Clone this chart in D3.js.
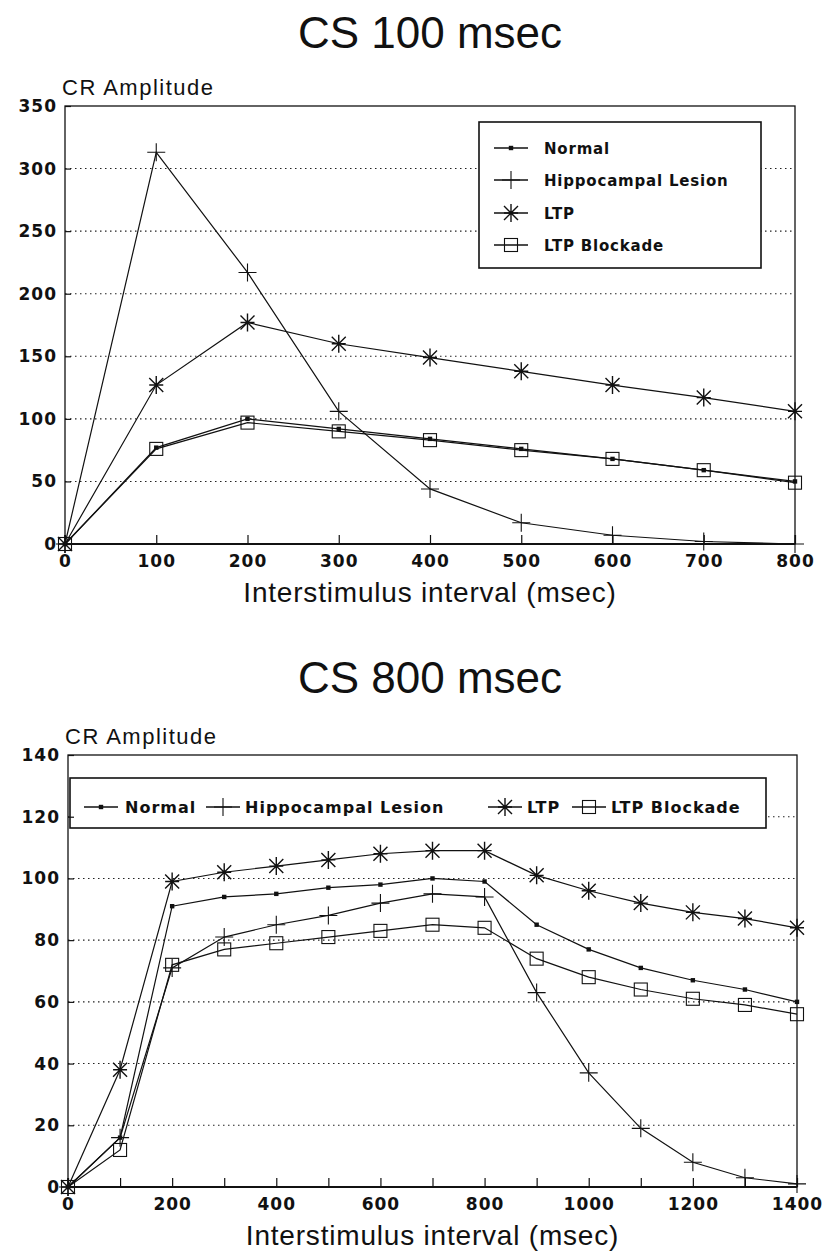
<!DOCTYPE html>
<html>
  <head>
    <meta charset="utf-8">
    <title>CR Amplitude by interstimulus interval</title>
    <script src="https://d3js.org/d3.v7.min.js"></script>
    <style>
      body { margin: 0; background: #fff; }
      svg { display: block; }
      .title { font-family: "Liberation Sans", Arial, sans-serif; font-size: 44px; fill: #111; }
      .ylabel { font-family: "Liberation Sans", Arial, sans-serif; font-size: 22px; letter-spacing: 1.5px; fill: #111; }
      .xlabel { font-family: "Liberation Sans", Arial, sans-serif; font-size: 28px; letter-spacing: 0.8px; fill: #111; }
      .axis text { font-family: "DejaVu Sans", sans-serif; font-weight: bold; font-size: 17px; letter-spacing: 1px; fill: #111; }
      .axis path { display: none; }
      .axis line { stroke: #111; stroke-width: 1.2; }
      .grid { stroke: #222; stroke-width: 1.1; stroke-dasharray: 1.5 3.5; }
      .frame { fill: none; stroke: #111; stroke-width: 1.3; }
      .series { fill: none; stroke: #111; stroke-width: 1.2; }
      .mark { stroke: #111; stroke-width: 1.1; fill: none; }
      .legendBox { fill: #fff; stroke: #111; stroke-width: 1.6; }
      .legend text { font-family: "DejaVu Sans", sans-serif; font-weight: bold; fill: #111; }
    </style>
  </head>
  <body>
    <svg id="chart" width="822" height="1259"></svg>
    <script>
      // series names and marker types
      var seriesNames = ["Normal", "Hippocampal Lesion", "LTP", "LTP Blockade"];
      var seriesMarks = ["dot", "plus", "star", "square"];

      // CS 100 msec panel
      var cs100Isi = [0, 100, 200, 300, 400, 500, 600, 700, 800];
      var cs100Normal = [0, 77, 100, 92, 84, 76, 68, 59, 50];
      var cs100Hippo = [0, 313, 217, 106, 44, 17, 7, 2, 0];
      var cs100Ltp = [0, 127, 177, 160, 149, 138, 127, 117, 106];
      var cs100Block = [0, 76, 97, 90, 83, 75, 68, 59, 49];
      var cs100YTicks = [0, 50, 100, 150, 200, 250, 300, 350];
      var cs100XTicks = [0, 100, 200, 300, 400, 500, 600, 700, 800];
      var cs100XLabels = [0, 100, 200, 300, 400, 500, 600, 700, 800];

      // CS 800 msec panel
      var cs800Isi = [0, 100, 200, 300, 400, 500, 600, 700, 800, 900, 1000, 1100, 1200, 1300, 1400];
      var cs800Normal = [0, 16, 91, 94, 95, 97, 98, 100, 99, 85, 77, 71, 67, 64, 60];
      var cs800Hippo = [0, 16, 71, 81, 85, 88, 92, 95, 94, 63, 37, 19, 8, 3, 1];
      var cs800Ltp = [0, 38, 99, 102, 104, 106, 108, 109, 109, 101, 96, 92, 89, 87, 84];
      var cs800Block = [0, 12, 72, 77, 79, 81, 83, 85, 84, 74, 68, 64, 61, 59, 56];
      var cs800YTicks = [0, 20, 40, 60, 80, 100, 120, 140];
      var cs800XTicks = [0, 100, 200, 300, 400, 500, 600, 700, 800, 900, 1000, 1100, 1200, 1300, 1400];
      var cs800XLabels = [0, 200, 400, 600, 800, 1000, 1200, 1400];

      var svg = d3.select("#chart");

      function drawMark(g, type, cx, cy) {
        if (type === "dot") {
          g.append("rect").attr("x", cx - 2.2).attr("y", cy - 2.2)
            .attr("width", 4.4).attr("height", 4.4).style("fill", "#111");
        } else if (type === "plus") {
          g.append("path").attr("class", "mark")
            .attr("d", "M" + (cx - 9) + "," + cy + "H" + (cx + 9) + "M" + cx + "," + (cy - 9) + "V" + (cy + 9));
        } else if (type === "star") {
          g.append("path").attr("class", "mark").style("stroke-width", 1.4)
            .attr("d", "M" + cx + "," + (cy - 9) + "V" + (cy + 9)
              + "M" + (cx - 7) + "," + (cy - 7) + "L" + (cx + 7) + "," + (cy + 7)
              + "M" + (cx - 7) + "," + (cy + 7) + "L" + (cx + 7) + "," + (cy - 7)
              + "M" + (cx - 7) + "," + cy + "H" + (cx + 7));
        } else {
          g.append("rect").attr("class", "mark")
            .attr("x", cx - 6.5).attr("y", cy - 6.5).attr("width", 13).attr("height", 13);
        }
      }

      function legendSymbol(g, type, cx, cy) {
        g.append("line").attr("x1", cx - 17).attr("x2", cx + 17)
          .attr("y1", cy).attr("y2", cy).style("stroke", "#111").style("stroke-width", 1.3);
        drawMark(g, type, cx, cy);
      }

      function drawPanel(p) {
        var x = d3.scaleLinear().domain(p.xDomain).range([p.left, p.right]);
        var y = d3.scaleLinear().domain(p.yDomain).range([p.bottom, p.top]);
        var g = svg.append("g");

        g.append("text").attr("class", "title")
          .attr("x", 430).attr("y", p.titleY).attr("text-anchor", "middle")
          .text(p.title);
        g.append("text").attr("class", "ylabel")
          .attr("x", p.left - 3).attr("y", p.top - 11)
          .text("CR Amplitude");
        g.append("text").attr("class", "xlabel")
          .attr("x", (p.left + p.right) / 2).attr("y", p.bottom + 58).attr("text-anchor", "middle")
          .text("Interstimulus interval (msec)");

        // dotted grid
        g.selectAll(".grid")
          .data(p.yTicks.filter(function(d) { return d > p.yDomain[0] && d < p.yDomain[1]; }))
          .enter().append("line")
            .attr("class", "grid")
            .attr("x1", p.left).attr("x2", p.right)
            .attr("y1", function(d) { return y(d); })
            .attr("y2", function(d) { return y(d); });

        // legend box covers the grid
        var legend = g.append("g").attr("class", "legend");
        legend.append("rect").attr("class", "legendBox")
          .attr("x", p.legend.x).attr("y", p.legend.y)
          .attr("width", p.legend.w).attr("height", p.legend.h);

        g.append("rect").attr("class", "frame")
          .attr("x", p.left).attr("y", p.top)
          .attr("width", p.right - p.left).attr("height", p.bottom - p.top);

        g.append("g").attr("class", "axis")
          .attr("transform", "translate(" + p.left + ",0)")
          .call(d3.axisLeft(y).tickValues(p.yTicks).tickSize(-6).tickPadding(8));
        g.append("g").attr("class", "axis")
          .attr("transform", "translate(0," + p.bottom + ")")
          .call(d3.axisBottom(x).tickValues(p.xTicks).tickSize(-9).tickPadding(11)
            .tickFormat(function(d) { return p.xLabels.indexOf(d) >= 0 ? d : ""; }));
        g.append("line")
          .attr("x1", p.left).attr("x2", p.right).attr("y1", p.bottom).attr("y2", p.bottom)
          .style("stroke", "#111").style("stroke-width", 2);

        var line = d3.line()
          .x(function(d) { return x(d[0]); })
          .y(function(d) { return y(d[1]); });

        p.series.forEach(function(values, i) {
          var pts = p.isi.map(function(t, j) { return [t, values[j]]; });
          g.append("path").attr("class", "series").attr("d", line(pts));
          var mg = g.append("g");
          pts.forEach(function(d) { drawMark(mg, seriesMarks[i], x(d[0]), y(d[1])); });
        });

        // legend entries
        seriesNames.forEach(function(name, i) {
          var e = p.legend.entries[i];
          legendSymbol(legend, seriesMarks[i], e.sx, e.y);
          legend.append("text").attr("x", e.tx).attr("y", e.y + 5.5)
            .style("font-size", p.legend.size + "px")
            .style("letter-spacing", p.legend.spacing + "px")
            .text(name);
        });
      }

      drawPanel({
        title: "CS 100 msec", titleY: 48,
        left: 65, right: 795, top: 106, bottom: 544,
        xDomain: [0, 800], yDomain: [0, 350],
        yTicks: cs100YTicks, xTicks: cs100XTicks, xLabels: cs100XLabels,
        isi: cs100Isi,
        series: [cs100Normal, cs100Hippo, cs100Ltp, cs100Block],
        legend: {
          x: 479, y: 122, w: 282, h: 146, size: 15, spacing: 0.8,
          entries: [
            { sx: 511, tx: 544, y: 148 },
            { sx: 511, tx: 544, y: 180 },
            { sx: 511, tx: 544, y: 213 },
            { sx: 511, tx: 544, y: 245 }
          ]
        }
      });

      drawPanel({
        title: "CS 800 msec", titleY: 693,
        left: 68, right: 797, top: 755, bottom: 1187,
        xDomain: [0, 1400], yDomain: [0, 140],
        yTicks: cs800YTicks, xTicks: cs800XTicks, xLabels: cs800XLabels,
        isi: cs800Isi,
        series: [cs800Normal, cs800Hippo, cs800Ltp, cs800Block],
        legend: {
          x: 70, y: 778, w: 696, h: 50, size: 16, spacing: 1,
          entries: [
            { sx: 101, tx: 125, y: 807 },
            { sx: 223, tx: 245, y: 807 },
            { sx: 505, tx: 527, y: 807 },
            { sx: 589, tx: 611, y: 807 }
          ]
        }
      });
    </script>
  </body>
</html>
